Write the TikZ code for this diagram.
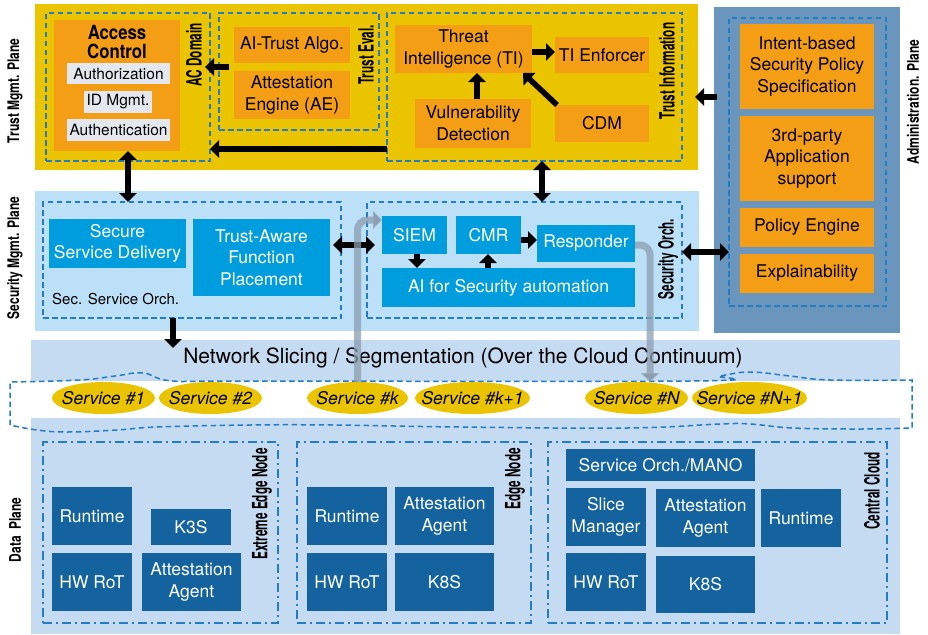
\documentclass[tikz,border=0pt]{standalone}
\usepackage{fontspec}
\setmainfont{TeX Gyre Heros}
\usetikzlibrary{arrows.meta,shapes.geometric}
\definecolor{tyel}{RGB}{235,196,0}
\definecolor{orng}{RGB}{244,158,22}
\definecolor{lgray}{RGB}{228,232,238}
\definecolor{secbgc}{RGB}{187,224,248}
\definecolor{bblue}{RGB}{0,157,222}
\definecolor{databgc}{RGB}{197,219,241}
\definecolor{dblue}{RGB}{20,98,158}
\definecolor{admbgc}{RGB}{106,149,188}
\definecolor{dashc}{RGB}{37,124,192}
\definecolor{gcol}{RGB}{140,158,176}
\newcommand\fBody{\fontsize{17.5}{21.5}\selectfont}
\newcommand\fSmall{\fontsize{15.5}{18}\selectfont}
\newcommand\fLab{\fontsize{21}{24}\selectfont\bfseries}
\newcommand\fPlab{\fontsize{16}{19}\selectfont\bfseries}
\newcommand\fNet{\fontsize{21}{25}\selectfont}
\newcommand\fSvc{\fontsize{17.5}{21}\selectfont\itshape}
\newcommand\fAcc{\fontsize{19.5}{18.5}\selectfont\bfseries}
\newcommand\fSec{\fontsize{15}{18}\selectfont}
\newcommand\BX[7]{\node[#6, minimum width={(#4-#2)*1pt}, minimum height={(#5-#3)*1pt}] (#1) at ({(#2+#4)/2},{(#3+#5)/2}) {#7};}
\begin{document}
\begin{tikzpicture}[x=1pt,y=-1pt,
  boxx/.style={inner sep=0pt, outer sep=0pt, align=center, font=\fBody},
  bgbox/.style={boxx},
  ob/.style={boxx, fill=orng},
  gb/.style={boxx, fill=lgray, font=\fSmall},
  bb/.style={boxx, fill=bblue, text=white},
  db/.style={boxx, fill=dblue, text=white},
  cont/.style={boxx, draw=dashc, line width=1.5pt, dash pattern=on 5.5pt off 3.5pt},
  dcont/.style={boxx, draw=dashc, line width=1.5pt, dash pattern=on 9pt off 4pt on 2pt off 4pt},
  svc/.style={boxx, ellipse, fill=tyel, font=\fSvc, inner xsep=-30pt, inner ysep=-12pt},
  lab/.style={font=\fLab, rotate=90, xscale=0.56, inner sep=0pt},
  plab/.style={font=\fPlab, rotate=90, xscale=0.75, inner sep=0pt},
  arr/.style={line width=5.5pt, -{Triangle[width=17pt,length=9pt]}},
  darr/.style={line width=5.5pt, {Triangle[width=17pt,length=9pt]}-{Triangle[width=17pt,length=9pt]}},
  garr/.style={line width=7pt, draw=gcol, draw opacity=0.75, rounded corners=10pt, -{Triangle[width=18pt,length=9pt]}},
  wavy/.style={draw=dashc, line width=1.5pt, dash pattern=on 5.5pt off 3.5pt}
]
\useasboundingbox (0,0) rectangle (928,634);
% backgrounds
\BX{trustbg}{35}{4}{698}{170}{bgbox, fill=tyel}{}
\BX{adminbg}{714}{7}{900}{333}{bgbox, fill=admbgc}{}
\BX{secbg}{35}{191}{699}{331}{bgbox, fill=secbgc}{}
\BX{databg}{31}{340}{900}{634}{bgbox, fill=databgc}{}
\BX{band}{31}{381}{900}{418}{bgbox, fill=white}{}
% plane labels
\node[plab] (ltrust) at (15,91) {Trust Mgmt. Plane};
\node[plab] (lsec) at (15,258) {Security Mgmt. Plane};
\node[plab] (ldata) at (15,530) {Data\enspace Plane};
\node[plab] (ladmin) at (913,102) {Administration. Plane};
% wavy slice outline
\draw[wavy] (10,425) -- (10,382) -- plot[smooth, tension=0.7] coordinates {(10,382) (80,380) (115,376) (143,373) (173,381) (250,381) (690,381) (720,376) (750,372) (790,376) (830,380) (912,380)} -- (912,428) -- plot[smooth, tension=0.7] coordinates {(912,428) (860,429) (793,428) (750,424) (720,424) (627,428) (460,427) (333,425) (250,425) (157,427) (117,430) (67,432) (37,430) (10,425)};
\node[font=\fNet, inner sep=0pt] (net) at (463,358) {Network Slicing / Segmentation (Over the Cloud Continuum)};
% services
\BX{s1}{52}{382}{155}{414}{svc}{Service \#1}
\BX{s2}{159}{382}{262}{414}{svc}{Service \#2}
\BX{sk}{307}{382}{408}{414}{svc}{Service \#k}
\BX{sk1}{415}{382}{530}{414}{svc}{Service \#k+1}
\BX{sN}{585}{382}{688}{414}{svc}{Service \#N}
\BX{sN1}{692}{382}{807}{414}{svc}{Service \#N+1}
% containers
\BX{acdom}{46}{13}{210}{161}{cont}{}
\BX{teval}{219}{13}{379}{130}{cont}{}
\BX{tinfo}{387}{13}{682}{161}{cont}{}
\BX{admdash}{729}{18}{886}{306}{cont}{}
\BX{ssorch}{43}{202}{341}{318}{cont}{}
\BX{secorch}{367}{202}{682}{318}{cont}{}
\BX{eenode}{43}{442}{278}{623}{dcont}{}
\BX{enode}{297}{442}{531}{623}{dcont}{}
\BX{ccloud}{548}{442}{887}{623}{dcont}{}
\node[lab] (lacdom) at (194,55) {AC Domain};
\node[lab] (lteval) at (366,55) {Trust Eval.};
\node[lab] (ltinfo) at (667,71) {Trust Information};
\node[lab] (lsecorch) at (668,259) {Security Orch.};
\node[lab] (leen) at (262,504) {Extreme Edge Node};
\node[lab] (len) at (515,479) {Edge Node};
\node[lab] (lcc) at (872,491) {Central Cloud};
\node[font=\fSec, anchor=west, inner sep=0pt] (lssorch) at (52,299) {Sec. Service Orch.};
% trust plane boxes
\BX{acc}{54}{20}{180}{151}{ob}{}
\node[font=\fAcc, xscale=0.86, align=center, inner sep=0pt] (acct) at (117,42) {Access\\Control};
\BX{authz}{67}{63}{170}{84}{gb}{Authorization}
\BX{idm}{84}{91}{152}{113}{gb}{ID Mgmt.}
\BX{authn}{67}{119}{170}{141}{gb}{Authentication}
\BX{aitrust}{234}{27}{350}{63}{ob}{AI-Trust Algo.}
\BX{ae}{234}{71}{350}{119}{ob}{Attestation\\Engine (AE)}
\BX{ti}{395}{25}{532}{73}{ob}{Threat\\Intelligence (TI)}
\BX{tienf}{555}{37}{649}{73}{ob}{TI Enforcer}
\BX{vuln}{415}{99}{531}{148}{ob}{Vulnerability\\Detection}
\BX{cdm}{555}{105}{649}{142}{ob}{CDM}
% admin boxes
\BX{intent}{740}{24}{874}{109}{ob}{Intent-based\\Security Policy\\Specification}
\BX{third}{740}{116}{874}{201}{ob}{3rd-party\\Application\\support}
\BX{peng}{740}{208}{874}{247}{ob}{Policy Engine}
\BX{expl}{740}{254}{874}{293}{ob}{Explainability}
% security plane boxes
\BX{ssd}{49}{219}{186}{268}{bb}{Secure\\Service Delivery}
\BX{tafp}{193}{219}{330}{296}{bb}{Trust-Aware\\Function\\Placement}
\BX{siem}{382}{216}{447}{254}{bb}{SIEM}
\BX{cmr}{456}{216}{521}{254}{bb}{CMR}
\BX{resp}{537}{225}{635}{262}{bb}{Responder}
\BX{aisec}{382}{268}{635}{307}{bb}{AI for Security automation}
% data plane boxes
\BX{rt1}{52}{487}{132}{545}{db}{Runtime}
\BX{hw1}{52}{553}{132}{611}{db}{HW RoT}
\BX{k3s}{151}{509}{231}{545}{db}{K3S}
\BX{aa1}{142}{553}{241}{611}{db}{Attestation\\Agent}
\BX{rt2}{307}{487}{387}{545}{db}{Runtime}
\BX{aa2}{395}{487}{494}{545}{db}{Attestation\\Agent}
\BX{hw2}{307}{553}{387}{611}{db}{HW RoT}
\BX{k8s2}{395}{553}{494}{611}{db}{K8S}
\BX{mano}{566}{449}{755}{481}{db}{Service Orch./MANO}
\BX{slice}{566}{488}{646}{546}{db}{Slice\\Manager}
\BX{aa3}{656}{489}{755}{547}{db}{Attestation\\Agent}
\BX{rt3}{761}{489}{841}{547}{db}{Runtime}
\BX{hw3}{566}{553}{646}{611}{db}{HW RoT}
\BX{k8s3}{656}{556}{755}{613}{db}{K8S}
% arrows
\draw[arr, shorten <=-10pt, shorten >=-5pt] (teval.west |- 0,67) -- (acdom.east |- 0,67);
\draw[arr] (tinfo.west |- 0,149) -- (acdom.east |- 0,149);
\draw[arr] (ti.east |- 0,52) -- (tienf.west |- 0,52);
\draw[arr] (vuln.north -| 477,0) -- (ti.south -| 477,0);
\draw[arr] ([xshift=2pt]cdm.north west) -- ([xshift=-9pt]ti.south east);
\draw[arr, shorten <=-3pt, shorten >=-3pt] (adminbg.west |- 0,97) -- (trustbg.east |- 0,97);
\draw[darr] (acc.south -| 128,0) -- (ssorch.north -| 128,0);
\draw[darr] (tinfo.south -| 542,0) -- (secorch.north -| 542,0);
\draw[arr, shorten >=-8pt] (ssorch.south -| 173,0) -- (databg.north -| 173,0);
\draw[darr, shorten <=3pt, shorten >=-8pt] (tafp.east |- 0,245) -- (secorch.west |- 0,245);
\draw[arr] (cmr.east |- 0,240) -- (resp.west |- 0,240);
\draw[arr] (siem.south -| 417,0) -- (aisec.north -| 417,0);
\draw[arr] (aisec.north -| 488,0) -- (cmr.south -| 488,0);
\draw[darr] (secorch.east |- 0,252) -- (admdash.west |- 0,252);
% gray flows
\draw[garr] (sk.north) |- (siem.west |- 0,220);
\draw[garr] (resp.east |- 0,245) -| (sN.north -| 650,0);
\end{tikzpicture}
\end{document}
